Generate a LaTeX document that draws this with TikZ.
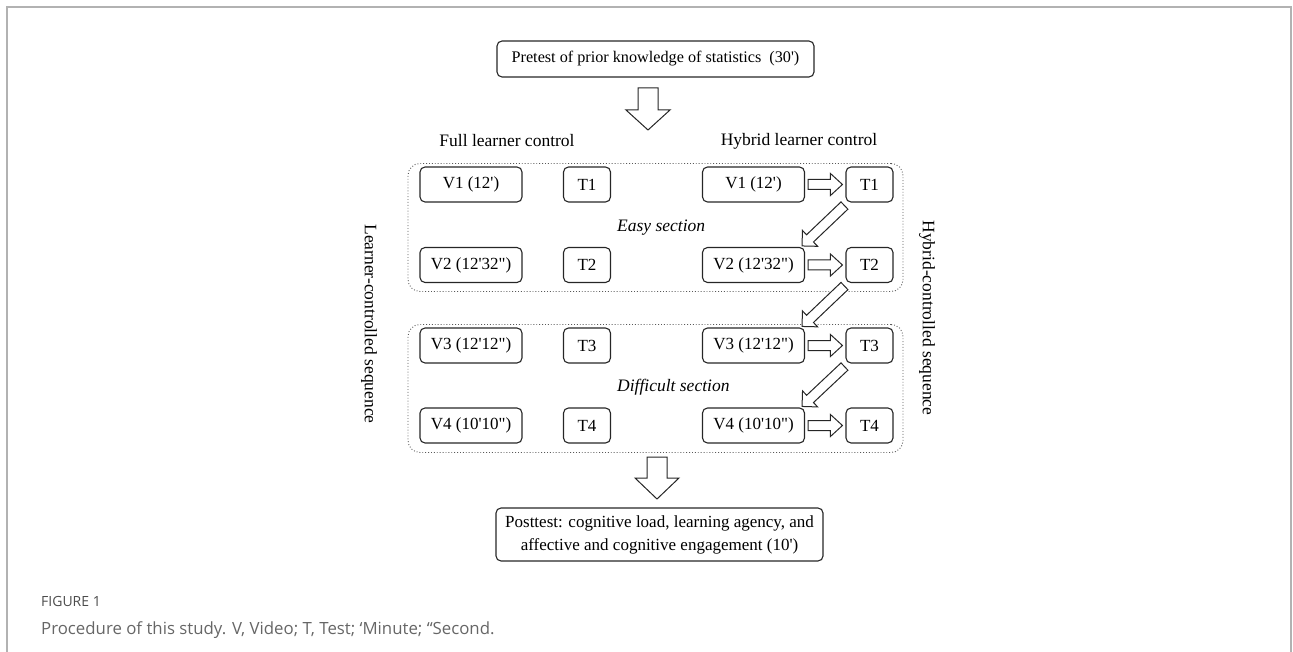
\documentclass[tikz,border=0pt]{standalone}
\usepackage{fontspec}
\setmainfont{Liberation Serif}[Ligatures=TeXOff]
\newfontfamily\capfont{Open Sans}
\usetikzlibrary{calc}
\newcommand{\blockarrow}[5]{%
  \coordinate (ba-h) at ($(#2)!#5!(#1)$);
  \draw[arrowbox] ($(#1)!#3!90:(#2)$) -- ($(ba-h)!#3!90:(#2)$) -- ($(ba-h)!#4!90:(#2)$) -- (#2)
    -- ($(ba-h)!#4!-90:(#2)$) -- ($(ba-h)!#3!-90:(#2)$) -- ($(#1)!#3!-90:(#2)$) -- cycle;}
\begin{document}
\begin{tikzpicture}[x=1pt,y=-1pt,
  box/.style={draw=black!85, line width=1.1pt, rounded corners=5pt, minimum height=35pt, inner sep=0pt, font=\fontsize{17}{20}\selectfont},
  vbox/.style={box, minimum width=102pt},
  tbox/.style={box, minimum width=47pt},
  section/.style={draw=black!65, dotted, line width=0.9pt, rounded corners=12pt, minimum width=495pt, minimum height=128pt, inner sep=0pt},
  lbl/.style={font=\fontsize{17.5}{20}\selectfont, inner sep=0pt},
  arrowbox/.style={draw=black!85, line width=1pt, fill=white, line join=miter},
  frame/.style={draw=black!30, line width=1.5pt},
]
\useasboundingbox (0,0) rectangle (1293,652);
\draw[frame] (7,652) -- (7,7) -- (1291,7) -- (1291,652);

% top and bottom boxes
\node[box, minimum width=317pt, minimum height=36pt, font=\fontsize{16.2}{19}\selectfont] (pre) at (655.5,59) {Pretest of prior knowledge of statistics\ \ (30')};
\node[box, minimum width=327pt, minimum height=53pt, align=center, font=\fontsize{17}{23}\selectfont] (post) at (659.5,534.5) {Posttest: cognitive load, learning agency, and\\affective and cognitive engagement (10')};

% column titles
\node[lbl] (fullt) at (507,141) {Full learner control};
\node[lbl] (hybt) at (799,141) {Hybrid learner control};

% sections
\node[section] (easy) at (655.5,227.5) {};
\node[section] (diff) at (655.5,388.5) {};
\node[lbl, anchor=west, font=\fontsize{17.5}{20}\selectfont\itshape] (easyt) at (617,228) {Easy section};
\node[lbl, anchor=west, font=\fontsize{17.5}{20}\selectfont\itshape] (difft) at (617,387) {Difficult section};

% side labels
\node[lbl, rotate=-90] (lcs) at (369,324) {Learner-controlled sequence};
\node[lbl, rotate=-90] (hcs) at (927,318) {Hybrid-controlled sequence};

% left column
\node[vbox] (lv1) at (471,184.5) {V1 (12')};
\node[tbox] (lt1) at (587,184.5) {T1};
\node[vbox] (lv2) at (471,265) {V2 (12'32")};
\node[tbox] (lt2) at (587,265) {T2};
\node[vbox] (lv3) at (471,345.5) {V3 (12'12")};
\node[tbox] (lt3) at (587,345.5) {T3};
\node[vbox] (lv4) at (471,425.5) {V4 (10'10")};
\node[tbox] (lt4) at (587,425.5) {T4};

% right column
\node[vbox] (rv1) at (753.5,184.5) {V1 (12')};
\node[tbox] (rt1) at (869.5,184.5) {T1};
\node[vbox] (rv2) at (753.5,265) {V2 (12'32")};
\node[tbox] (rt2) at (869.5,265) {T2};
\node[vbox] (rv3) at (753.5,345.5) {V3 (12'12")};
\node[tbox] (rt3) at (869.5,345.5) {T3};
\node[vbox] (rv4) at (753.5,425.5) {V4 (10'10")};
\node[tbox] (rt4) at (869.5,425.5) {T4};

% big down arrows
\coordinate (d1a) at (648,88);
\coordinate (d1b) at (648,130);
\blockarrow{d1a}{d1b}{10pt}{22pt}{20pt}
\coordinate (d2a) at (657,457);
\coordinate (d2b) at (657,499);
\blockarrow{d2a}{d2b}{10pt}{22pt}{21pt}

% horizontal arrows V -> T
\foreach \i in {1,2,3,4}{
  \coordinate (h\i a) at ([xshift=3pt]rv\i.east);
  \coordinate (h\i b) at ([xshift=-3pt]rt\i.west);
  \blockarrow{h\i a}{h\i b}{5pt}{11pt}{12pt}
}
% diagonal arrows T -> next V
\foreach \i/\j in {1/2,2/3,3/4}{
  \coordinate (g\i a) at ([shift={(-1pt,-3pt)}]rt\i.south west);
  \coordinate (g\i b) at ([shift={(-3pt,1pt)}]rv\j.north east);
  \blockarrow{g\i a}{g\i b}{5pt}{11pt}{11pt}
}

% caption
\node[anchor=west, inner sep=0pt, font=\capfont\fontsize{14}{16}\selectfont, text=black!70] (fig) at (41,601) {FIGURE 1};
\node[anchor=west, inner sep=0pt, font=\capfont\fontsize{16.8}{20}\selectfont, text=black!60] (cap) at (41,630) {Procedure of this study. V, Video; T, Test; ‘Minute; “Second.};
\end{tikzpicture}
\end{document}
